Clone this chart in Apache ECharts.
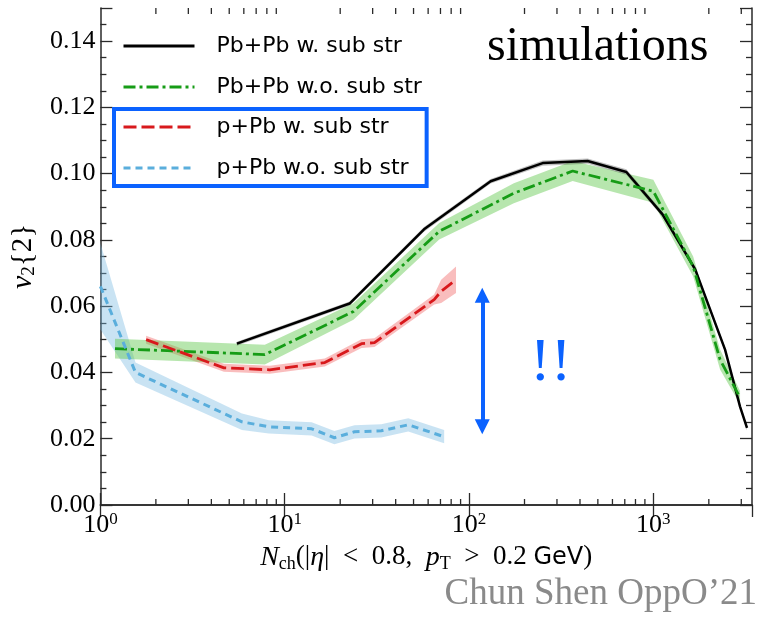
<!DOCTYPE html>
<html><head><meta charset="utf-8">
<script src="https://cdn.jsdelivr.net/npm/echarts@6/dist/echarts.min.js"></script>
<style>html,body{margin:0;padding:0;background:#fff}#c{width:761px;height:620px}</style>
</head><body><div id="c"></div>
<script>
// ---- data ----
const seriesNames = ['Pb+Pb w. sub str', 'Pb+Pb w.o. sub str', 'p+Pb w. sub str', 'p+Pb w.o. sub str'];

const pbpbW_x   = [5.5, 22.5, 57, 131, 251, 440, 714, 1119, 1687, 2450, 2954, 3222];
const pbpbW_y   = [0.0487, 0.0608, 0.0832, 0.0977, 0.1032, 0.1038, 0.1005, 0.0878, 0.0711, 0.0469, 0.0297, 0.0233];
const pbpbW_err = [0.0006, 0.0006, 0.0007, 0.0007, 0.0008, 0.0008, 0.0008, 0.0008, 0.0008, 0.0008, 0.0008, 0.0008];

const pbpbWo_x   = [1.2, 7.8, 23.6, 68.9, 175, 365, 1000, 1645, 2302, 2954];
const pbpbWo_y   = [0.0472, 0.0454, 0.0584, 0.0826, 0.0941, 0.1008, 0.0947, 0.0720, 0.0439, 0.0324];
const pbpbWo_err = [0.0030, 0.0030, 0.0025, 0.0025, 0.0030, 0.0030, 0.0035, 0.0030, 0.0030, 0.0020];

const pPbW_x   = [1.77, 4.68, 8.3, 16.5, 26.1, 30.7, 64.7, 70.6, 85];
const pPbW_y   = [0.0499, 0.0414, 0.0408, 0.0430, 0.0487, 0.0490, 0.0620, 0.0645, 0.0680];
const pPbW_err = [0.0012, 0.0012, 0.0012, 0.0012, 0.0013, 0.0013, 0.0015, 0.0035, 0.0040];

const pPbWo_x   = [1.0, 1.55, 5.86, 8.2, 14, 18.6, 23.9, 33.4, 46.8, 73.3];
const pPbWo_y   = [0.066, 0.040, 0.0251, 0.0236, 0.0230, 0.0203, 0.0221, 0.0224, 0.0242, 0.0206];
const pPbWo_err = [0.013, 0.003, 0.0025, 0.0020, 0.0020, 0.0020, 0.0020, 0.0020, 0.0020, 0.0020];

const xMin = 1, xMax = 3430;
const yMin = 0, yMax = 0.15, yStep = 0.02;
const xMinorTicks = [2,3,4,5,6,7,8,9,20,30,40,50,60,70,80,90,200,300,400,500,600,700,800,900,2000,3000];
const arrowX = 118, arrowY0 = 0.0236, arrowY1 = 0.0633;

// ---- styles ----
const serif = 'Liberation Serif';
const sans = 'DejaVu Sans';
const axisColor = '#2a2a2a';
const blue = '#0b62ff';

function zip(xs, ys) { return xs.map((x, i) => [x, ys[i]]); }

function bandSeries(xs, ys, es, color) {
  const data = xs.map((x, i) => [x, ys[i] - es[i], ys[i] + es[i]]);
  return {
    type: 'custom', z: 1, silent: true, clip: true,
    encode: { x: 0, y: [1, 2] },
    data: data,
    renderItem: function (params, api) {
      if (params.dataIndex !== 0) return null;
      const up = data.map(d => api.coord([d[0], d[2]]));
      const lo = data.map(d => api.coord([d[0], d[1]])).reverse();
      return { type: 'polygon', shape: { points: up.concat(lo) }, style: { fill: color } };
    }
  };
}

function lineSeries(name, xs, ys, color, width, dash, extra) {
  return Object.assign({
    type: 'line', name: name, z: 3, data: zip(xs, ys),
    symbol: 'none', showSymbol: false, color: color,
    lineStyle: { color: color, width: width, type: dash }
  }, extra || {});
}

const minorTickSeries = {
  type: 'custom', z: 5, silent: true, clip: false,
  data: xMinorTicks.map(v => [v, yMin]),
  renderItem: function (params, api) {
    const v = api.value(0);
    const pb = api.coord([v, yMin]);
    const pt = api.coord([v, yMax]);
    const st = { stroke: axisColor, lineWidth: 1.3 };
    return { type: 'group', children: [
      { type: 'line', shape: { x1: pb[0], y1: pb[1], x2: pb[0], y2: pb[1] - 6 }, style: st },
      { type: 'line', shape: { x1: pt[0], y1: pt[1], x2: pt[0], y2: pt[1] + 6 }, style: st }
    ]};
  }
};

function xLabel(v) {
  const l = Math.log10(v), e = Math.round(l);
  if (Math.abs(l - e) > 1e-6) return '';
  return '{b|10}{sup|' + e + '}';
}

const axisLineCommon = { show: true, lineStyle: { color: axisColor, width: 1.5 } };
const legendText = { fontFamily: sans, fontSize: 22, color: '#000', lineHeight: 24, padding: [0, 0, 0, 17] };

const chart = echarts.init(document.getElementById('c'), null, { renderer: 'canvas' });
chart.setOption({
  animation: false,
  backgroundColor: '#fff',
  grid: { left: 98, right: 9, top: 8, bottom: 115, containLabel: false },
  xAxis: [{
    type: 'log', min: xMin, max: xMax, logBase: 10, position: 'bottom',
    axisLine: axisLineCommon,
    axisTick: { show: true, inside: true, length: 12, lineStyle: { color: axisColor, width: 1.3 } },
    splitLine: { show: false },
    axisLabel: {
      formatter: xLabel, margin: 6, showMaxLabel: false, color: '#000',
      rich: {
        b: { fontFamily: serif, fontSize: 26, color: '#000' },
        sup: { fontFamily: serif, fontSize: 17, color: '#000', padding: [0, 0, 12, 0] }
      }
    },
    name: '{i|N}{sub|ch}{n|(|}{i|η}{n||  <  0.8,  }{i|p}{sub|T}{n|  >  0.2 }{s|GeV}{n|)}',
    nameLocation: 'middle', nameGap: 29,
    nameTextStyle: {
      fontFamily: serif, fontSize: 27, color: '#000',
      rich: {
        i: { fontFamily: serif, fontStyle: 'italic', fontSize: 28, color: '#000' },
        n: { fontFamily: serif, fontSize: 27, color: '#000' },
        sub: { fontFamily: serif, fontSize: 18, color: '#000', padding: [13, 0, 0, 0] },
        s: { fontFamily: sans, fontSize: 24, color: '#000' }
      }
    }
  }, {
    type: 'log', min: xMin, max: xMax, logBase: 10, position: 'top',
    axisLine: axisLineCommon,
    axisTick: { show: true, inside: true, length: 12, lineStyle: { color: axisColor, width: 1.3 } },
    splitLine: { show: false }, axisLabel: { show: false }
  }],
  yAxis: [{
    type: 'value', min: yMin, max: yMax, interval: yStep, position: 'left',
    axisLine: axisLineCommon,
    axisTick: { show: true, inside: true, length: 12, lineStyle: { color: axisColor, width: 1.3 } },
    minorTick: { show: true, splitNumber: 4, length: 6, lineStyle: { color: axisColor, width: 1.3 } },
    splitLine: { show: false },
    axisLabel: {
      margin: 5, showMaxLabel: false, fontFamily: serif, fontSize: 26, color: '#000',
      formatter: v => (Math.abs(v - yMax) < 1e-9 ? '' : v.toFixed(2))
    },
    name: '{i|v}{sub|2}{2}', nameLocation: 'middle', nameRotate: 90, nameGap: 50,
    nameTextStyle: {
      fontFamily: serif, fontSize: 29, color: '#000', padding: [0, 0, 0, 0],
      rich: {
        i: { fontFamily: serif, fontStyle: 'italic', fontSize: 30, color: '#000' },
        sub: { fontFamily: serif, fontSize: 19, color: '#000', padding: [13, 0, 0, 0] }
      }
    }
  }, {
    type: 'value', min: yMin, max: yMax, interval: yStep, position: 'right',
    axisLine: axisLineCommon,
    axisTick: { show: true, inside: true, length: 12, lineStyle: { color: axisColor, width: 1.3 } },
    minorTick: { show: true, splitNumber: 4, length: 6, lineStyle: { color: axisColor, width: 1.3 } },
    splitLine: { show: false }, axisLabel: { show: false }
  }],
  legend: [{
    data: [seriesNames[0], seriesNames[1]],
    orient: 'vertical', left: 117, top: 29, padding: 5,
    itemWidth: 71, itemHeight: 14, itemGap: 17, selectedMode: false,
    lineStyle: { width: 3 }, itemStyle: { opacity: 0 },
    textStyle: legendText
  }, {
    data: [seriesNames[2], seriesNames[3]],
    orient: 'vertical', left: 114, top: 109, padding: [6, 18, 6, 8],
    borderColor: blue, borderWidth: 4, borderRadius: 0,
    itemWidth: 71, itemHeight: 14, itemGap: 17, selectedMode: false,
    lineStyle: { width: 3 }, itemStyle: { opacity: 0 },
    textStyle: legendText
  }],
  series: [
    bandSeries(pPbWo_x, pPbWo_y, pPbWo_err, 'rgba(120,185,225,0.40)'),
    bandSeries(pPbW_x, pPbW_y, pPbW_err, 'rgba(240,90,90,0.40)'),
    bandSeries(pbpbWo_x, pbpbWo_y, pbpbWo_err, 'rgba(95,200,75,0.45)'),
    bandSeries(pbpbW_x, pbpbW_y, pbpbW_err, 'rgba(0,0,0,0.25)'),
    lineSeries(seriesNames[0], pbpbW_x, pbpbW_y, '#000000', 2.5, 'solid'),
    lineSeries(seriesNames[1], pbpbWo_x, pbpbWo_y, '#169c16', 2.8, [12, 4, 3, 4]),
    lineSeries(seriesNames[2], pPbW_x, pPbW_y, '#d8191c', 2.8, [13, 5]),
    lineSeries(seriesNames[3], pPbWo_x, pPbWo_y, '#5aaedc', 3, [7, 5], {
      markLine: {
        silent: true, symbol: ['triangle', 'triangle'], symbolSize: [15, 15],
        label: { show: false },
        lineStyle: { color: blue, width: 4, type: 'solid' },
        data: [[{ coord: [arrowX, arrowY0] }, { coord: [arrowX, arrowY1] }]]
      }
    }),
    minorTickSeries
  ],
  graphic: [
    { type: 'text', left: 487, top: 23, style: { text: 'simulations', font: '48px "Liberation Serif"', fill: '#000' } },
    { type: 'text', left: 530, top: 333, style: { text: '!!', font: '62px "Liberation Serif"', fill: blue } },
    { type: 'text', right: 4, top: 576, style: { text: 'Chun Shen OppO’21', font: '37px "Liberation Serif"', fill: '#8a8a8a' } }
  ]
});
</script></body></html>
